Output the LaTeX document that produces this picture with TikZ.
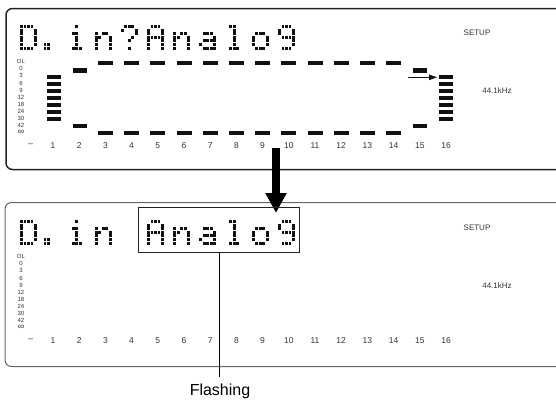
\documentclass[tikz,border=0pt]{standalone}
\usepackage{fontspec}
\setmainfont{Liberation Sans}
\usetikzlibrary{arrows.meta}
\definecolor{lcd}{HTML}{111111}
\definecolor{labc}{HTML}{333333}
\definecolor{frame1}{HTML}{222222}
\definecolor{frame2}{HTML}{666666}
% dot-matrix glyphs: column/row pairs
\def\glD{0/0,1/0,2/0,3/0,0/1,4/1,0/2,4/2,0/3,4/3,0/4,4/4,0/5,4/5,0/6,1/6,2/6,3/6}
\def\glPer{0/5,1/5,0/6,1/6}
\def\gli{2/0,1/2,2/2,2/3,2/4,2/5,1/6,2/6,3/6}
\def\gln{0/2,2/2,3/2,0/3,1/3,4/3,0/4,4/4,0/5,4/5,0/6,4/6}
\def\glq{1/0,2/0,3/0,0/1,4/1,4/2,3/3,2/4,2/6}
\def\glA{1/0,2/0,3/0,0/1,4/1,0/2,4/2,0/3,1/3,2/3,3/3,4/3,0/4,4/4,0/5,4/5,0/6,4/6}
\def\gla{1/2,2/2,3/2,4/3,1/4,2/4,3/4,4/4,0/5,4/5,1/6,2/6,3/6,4/6}
\def\gll{1/0,2/0,2/1,2/2,2/3,2/4,2/5,1/6,2/6,3/6}
\def\glo{1/2,2/2,3/2,0/3,4/3,0/4,4/4,0/5,4/5,1/6,2/6,3/6}
\def\glg{1/0,2/0,3/0,0/1,4/1,0/2,4/2,1/3,2/3,3/3,4/3,4/4,4/5,1/6,2/6,3/6}
\newcommand\dmchar[3]{\foreach \c/\r in #3 {\fill[lcd] ({#1+3.5*\c},{#2+3.6*\r}) rectangle ++(2.9,3.0);}}
\newcommand\panelcontent[2]{%
  \foreach \lab [count=\i from 0] in {OL,0,3,6,9,12,18,24,30,42} {
    \node[scalelab] (#1-s\i) at (21, {#2+61.7+7.1*\i}) {\lab};
  }
  \node[scalelab, font=\fontsize{9}{9}\selectfont] (#1-s10) at (21, {#2+61.7+71}) {∞};
  \node[numlab] (#1-dash) at (30.8, #2+145.7) {–};
  \foreach \n in {1,...,16} {
    \node[numlab] (#1-c\n) at ({53+26.2*(\n-1)}, #2+145.7) {\n};
  }
  \node[smalllab] (#1-setup) at (477, #2+33) {SETUP};
  \node[smalllab] (#1-khz) at (497, #2+91) {44.1kHz};
}
\begin{document}
\begin{tikzpicture}[x=1pt,y=-1pt,
  scalelab/.style={inner sep=0pt, text=labc, font=\fontsize{6}{6.5}\selectfont},
  numlab/.style={inner sep=0pt, text=labc, font=\fontsize{8.5}{9}\selectfont},
  smalllab/.style={inner sep=0pt, text=labc, font=\fontsize{8}{9}\selectfont},
  bar/.style={fill=lcd}]
\useasboundingbox (0,0) rectangle (556,399);

% frames (open on the right)
\draw[frame1, line width=1.5pt, rounded corners=6.5pt] (556,8.5) -- (6,8.5) -- (6,169.5) -- (556,169.5);
\draw[frame2, line width=1pt, rounded corners=6.5pt] (556,202.5) -- (5,202.5) -- (5,366.5) -- (556,366.5);

% top panel text: D. in?Analog
\dmchar{20}{25}{\glD}
\dmchar{43.5}{25}{\glPer}
\dmchar{68.4}{25}{\gli}
\dmchar{94.6}{25}{\gln}
\dmchar{120.8}{25}{\glq}
\dmchar{147}{25}{\glA}
\dmchar{173.2}{25}{\gln}
\dmchar{199.4}{25}{\gla}
\dmchar{225.6}{25}{\gll}
\dmchar{251.8}{25}{\glo}
\dmchar{278}{25}{\glg}

% bottom panel text: D. in Analog
\dmchar{20}{220}{\glD}
\dmchar{43.5}{220}{\glPer}
\dmchar{68.4}{220}{\gli}
\dmchar{94.6}{220}{\gln}
\dmchar{147}{220}{\glA}
\dmchar{173.2}{220}{\gln}
\dmchar{199.4}{220}{\gla}
\dmchar{225.6}{220}{\gll}
\dmchar{251.8}{220}{\glo}
\dmchar{278}{220}{\glg}

% panel labels
\panelcontent{top}{0}
\panelcontent{bot}{195}

% meter bars (top panel)
\foreach \j in {0,...,6} {
  \fill[bar] (47,{75+7*\j}) rectangle (61,{79.3+7*\j});
  \fill[bar] (439,{75+7*\j}) rectangle (453,{79.3+7*\j});
}
\fill[bar] (73,68.3) rectangle (87,72.7);
\fill[bar] (73,124) rectangle (87,128.3);
\fill[bar] (413,68.3) rectangle (427,72.7);
\fill[bar] (413,124) rectangle (427,128.3);
\foreach \n in {3,...,14} {
  \fill[bar] ({53+26.2*(\n-1)-7.5},60.7) rectangle ({53+26.2*(\n-1)+7.5},65);
  \fill[bar] ({53+26.2*(\n-1)-7.5},131) rectangle ({53+26.2*(\n-1)+7.5},135.3);
}

% small arrow to channel 16
\coordinate (sa) at (408,77.3);
\coordinate (sb) at (437,77.3);
\draw[lcd, line width=0.8pt, -{Triangle[width=5.5pt,length=8pt]}] (sa) -- (sb);

% big arrow
\coordinate (bigS) at (276,148);
\coordinate (bigE) at (276,213);
\draw[black, line width=8pt, -{Triangle[width=20pt,length=20pt]}] (bigS) -- (bigE);

% flashing box and label
\node[draw=frame1, line width=0.9pt, minimum width=161pt, minimum height=45pt, inner sep=0pt] (flashbox) at (218.5,229.5) {};
\node[anchor=base, inner sep=0pt, font=\fontsize{16}{18}\selectfont] (flashlab) at (220,395) {Flashing};
\coordinate (flashend) at (219.3,377);
\draw[black, line width=0.8pt] (flashbox.south -| flashend) -- (flashend);
\end{tikzpicture}
\end{document}
